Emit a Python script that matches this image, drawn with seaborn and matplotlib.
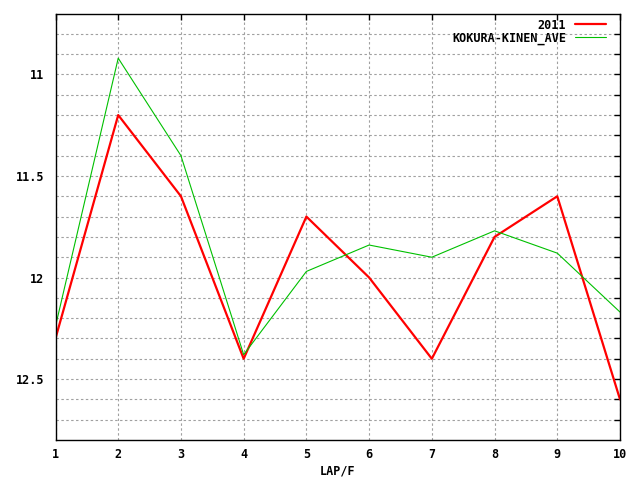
import numpy as np
import matplotlib
matplotlib.use("Agg")
import matplotlib.pyplot as plt
from matplotlib.ticker import FixedLocator, FuncFormatter
import seaborn as sns

# lap number and lap times (seconds per furlong)
laps = [1, 2, 3, 4, 5, 6, 7, 8, 9, 10]
times_2011 = [12.3, 11.2, 11.6, 12.4, 11.7, 12.0, 12.4, 11.8, 11.6, 12.6]
times_ave = [12.24, 10.92, 11.40, 12.38, 11.97, 11.84, 11.90, 11.77, 11.88, 12.17]
ytick_vals = [11, 11.5, 12, 12.5]
ytick_text = ["11", "11.5", "12", "12.5"]

sns.set_style("white")
plt.rcParams["font.family"] = ["DejaVu Sans Mono"]
plt.rcParams["font.weight"] = "bold"
plt.rcParams["text.color"] = "black"

fig = plt.figure(figsize=(6.4, 4.8), dpi=100)
ax = fig.add_axes([55.5 / 640, 40 / 480, (620 - 55.5) / 640, (440 - 13.5) / 480])

sns.lineplot(x=laps, y=times_2011, color="#ff0000", linewidth=1.6, label="2011", ax=ax)
sns.lineplot(x=laps, y=times_ave, color="#00c000", linewidth=0.8,
             label="KOKURA-KINEN_AVE", ax=ax)

ax.set_xlim(1, 10)
ax.set_ylim(12.8, 10.7)

grid_y = np.round(np.arange(10.8, 12.71, 0.1), 2)
ax.yaxis.set_major_locator(FixedLocator(grid_y))
lab = dict(zip(ytick_vals, ytick_text))
ax.yaxis.set_major_formatter(FuncFormatter(
    lambda v, p: lab.get(round(v, 2), "")))
ax.xaxis.set_major_locator(FixedLocator(laps))

ax.tick_params(direction="in", length=4, width=1, top=True, right=True,
               labelsize=8.5, colors="black")
ax.tick_params(axis="y", pad=8)
ax.tick_params(axis="x", pad=6)
for s in ax.spines.values():
    s.set_visible(True)
    s.set_color("black")
    s.set_linewidth(1)

ax.grid(True, color="#a0a0a0", linestyle=(0, (2.2, 2.2)), linewidth=0.8)
ax.set_axisbelow(True)

ax.set_xlabel("LAP/F", fontsize=8.5, fontweight="bold", labelpad=2, color="black")
ax.set_ylabel("")

leg = ax.legend(loc="upper right", frameon=False, markerfirst=False,
                fontsize=8.5, handlelength=2.7, handletextpad=0.7,
                labelspacing=0.0, borderpad=0, borderaxespad=0,
                bbox_to_anchor=(0.976, 0.988))
for t in leg.get_texts():
    t.set_fontweight("bold")
    t.set_color("black")

fig.savefig("out.png", dpi=100)
